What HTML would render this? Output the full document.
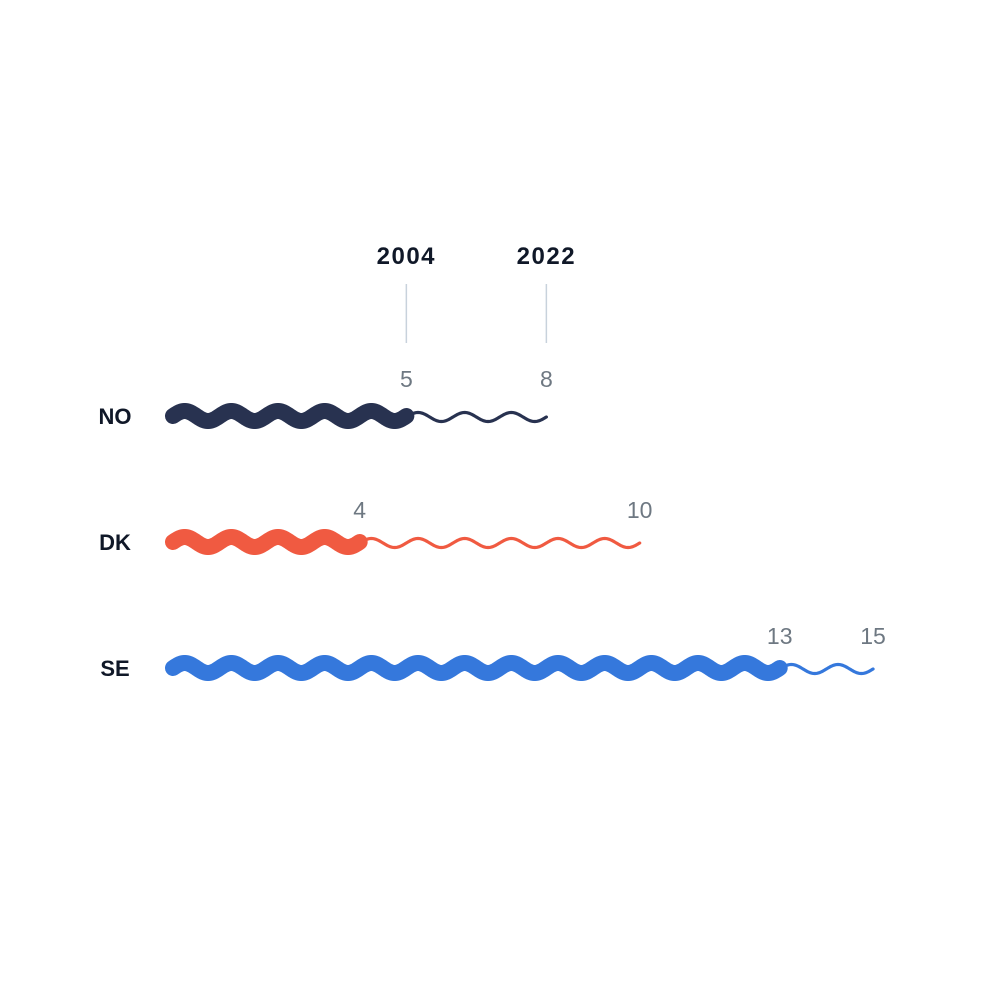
<!DOCTYPE html>
<html><head><meta charset="utf-8"><style>
html,body{margin:0;padding:0;background:#fff;}
svg{display:block;font-family:"Liberation Sans",sans-serif;}
</style></head><body>
<svg width="1000" height="1000" viewBox="0 0 1000 1000">
<g id="axis"></g>
<g id="rows"></g>
</svg>
<script>
const countries = ["NO","DK","SE"];
const val2004 = [5,4,13];
const val2022 = [8,10,15];
const colors = ["#283250","#f05a41","#3578dc"];
const years = ["2004","2022"];
const yearRef = [5,8];

const x = v => 173 + v*46.67;
const rowY = i => 416 + i*126;
const NS="http://www.w3.org/2000/svg";
const axis=document.getElementById('axis');
const rows=document.getElementById('rows');
function mk(tag,attrs,parent){const e=document.createElementNS(NS,tag);for(const k in attrs)e.setAttribute(k,attrs[k]);parent.appendChild(e);return e;}
function wave(u0,u1,cy,amp){
  let d="";
  for(let u=u0;u<=u1+1e-9;u+=0.02){
    const px=x(u), py=cy-amp*Math.sin(2*Math.PI*u);
    d+=(d?"L":"M")+px.toFixed(2)+","+py.toFixed(2);
  }
  return d;
}
years.forEach((yr,j)=>{
  const t=mk('text',{x:x(yearRef[j]),y:264,'text-anchor':'middle','font-size':24,'font-weight':'bold',fill:'#101828','letter-spacing':'1.5'},axis);
  t.textContent=yr;
  
  
  const l=mk('line',{x1:x(yearRef[j]),x2:x(yearRef[j]),y1:284,y2:343,stroke:'#c8d2dc','stroke-width':1.5},axis);
  
  
});
countries.forEach((c,i)=>{
  const cy=rowY(i);
  const off = i===0 ? -29 : -24;
  const g=mk('g',{},rows);
  
  
  const lab=mk('text',{x:115,y:cy+8,'text-anchor':'middle','font-size':22,'font-weight':'bold',fill:'#101828'},g);
  lab.textContent=c;
  
  
  const thin=mk('path',{d:wave(val2004[i],val2022[i],cy+1,4.5),fill:'none',stroke:colors[i],'stroke-width':3.2,'stroke-linecap':'round'},g);
  
  
  const thick=mk('path',{d:wave(0,val2004[i],cy,5),fill:'none',stroke:colors[i],'stroke-width':16,'stroke-linecap':'round'},g);
  
  
  const v1=mk('text',{x:x(val2004[i]),y:cy+off,'text-anchor':'middle','font-size':23,fill:'#6e7882'},g);
  v1.textContent=val2004[i];
  
  
  const v2=mk('text',{x:x(val2022[i]),y:cy+off,'text-anchor':'middle','font-size':23,fill:'#6e7882'},g);
  v2.textContent=val2022[i];
  
  
});
</script>
</body></html>
